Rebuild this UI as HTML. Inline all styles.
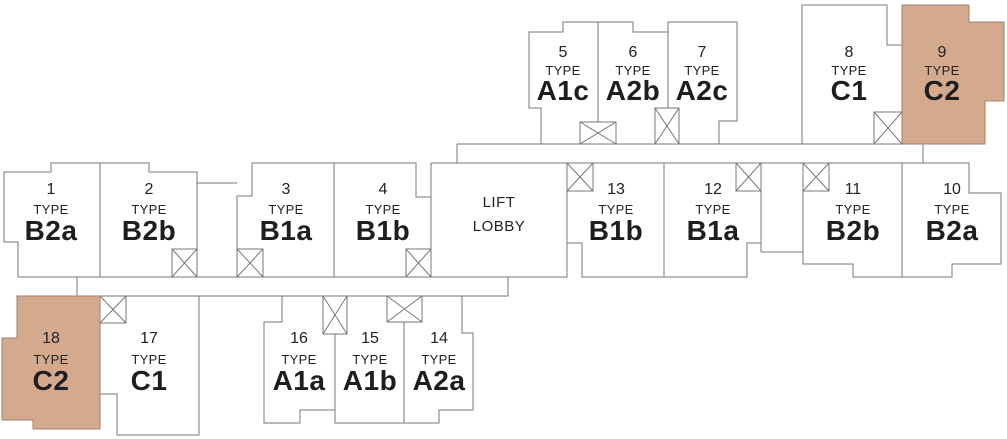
<!DOCTYPE html>
<html><head><meta charset="utf-8"><style>
html,body{margin:0;padding:0;background:#fff;}
svg{display:block;}
.n{font:16px "Liberation Sans",sans-serif;fill:#222;text-anchor:middle;}
.t{font:13px "Liberation Sans",sans-serif;fill:#222;text-anchor:middle;letter-spacing:0.3px;}
.c{font:bold 28px "Liberation Sans",sans-serif;fill:#1e1e1e;text-anchor:middle;letter-spacing:0.5px;}
.l{font:15px "Liberation Sans",sans-serif;fill:#222;text-anchor:middle;letter-spacing:0.5px;}
</style></head><body>
<svg width="1007" height="439" viewBox="0 0 1007 439" xmlns="http://www.w3.org/2000/svg">
<g fill="none" stroke="#777" stroke-width="1">
<polyline points="457,144 457,163 431,163"/>
<line x1="457" y1="144" x2="985" y2="144"/>
<line x1="567" y1="163" x2="969" y2="163"/>
<line x1="923" y1="144" x2="923" y2="163"/>
<polyline points="541,144 541,108 529,108 529,32 563,32 563,22 633,22 633,32 668,32 668,22 737,22 737,121 719,121 719,144"/>
<line x1="598" y1="22" x2="598" y2="122"/>
<line x1="668" y1="32" x2="668" y2="108"/>
<rect x="580" y="122" width="36" height="22"/><path d="M580,122 L616,144 M616,122 L580,144"/>
<rect x="655" y="108" width="24" height="36"/><path d="M655,108 L679,144 M679,108 L655,144"/>
<polyline points="802,144 802,5 887,5 887,45 902,45"/>
<rect x="874" y="112" width="28" height="32"/><path d="M874,112 L902,144 M902,112 L874,144"/>
</g>
<polygon points="902,5 969,5 969,22 1004,22 1004,101 985,101 985,144 902,144" fill="#d4aa8f" stroke="#a08070" stroke-width="1"/>
<g fill="none" stroke="#777" stroke-width="1">
<polyline points="431,163 567,163 567,277 431,277 431,163"/>
<polyline points="567,243 582,243 582,277 664,277"/>
<rect x="567" y="163" width="26" height="28"/><path d="M567,163 L593,191 M593,163 L567,191"/>
<line x1="664" y1="163" x2="664" y2="277"/>
<polyline points="761,163 761,252"/>
<polyline points="761,243 747,243 747,277 664,277"/>
<rect x="736" y="163" width="25" height="28"/><path d="M736,163 L761,191 M761,163 L736,191"/>
<polyline points="761,252 803,252"/>
<polyline points="803,163 803,264 853,264 853,277 902,277"/>
<rect x="803" y="163" width="26" height="28"/><path d="M803,163 L829,191 M829,163 L803,191"/>
<line x1="902" y1="163" x2="902" y2="277"/>
<polyline points="902,163 969,163 969,193 1001,193 1001,264 952,264 952,277 902,277"/>
<polyline points="18,277 18,242 4,242 4,172 51,172 51,163 149,163 149,172 197,172 197,277"/>
<line x1="100" y1="163" x2="100" y2="277"/>
<rect x="172" y="249" width="25" height="28"/><path d="M172,249 L197,277 M197,249 L172,277"/>
<polyline points="197,183 237,183"/>
<polyline points="237,277 237,196 252,196 252,163 416,163 416,197 431,197"/>
<line x1="334" y1="163" x2="334" y2="277"/>
<rect x="237" y="249" width="26" height="28"/><path d="M237,249 L263,277 M263,249 L237,277"/>
<rect x="406" y="249" width="25" height="28"/><path d="M406,249 L431,277 M431,249 L406,277"/>
<polyline points="18,277 431,277"/>
<polyline points="77,277 77,296 508,296 508,277 431,277"/>
<polyline points="199,296 199,435 117,435 117,394 100,394"/>
<rect x="100" y="296" width="26" height="27"/><path d="M100,296 L126,323 M126,296 L100,323"/>
<polyline points="282,296 282,322 264,322 264,423 300,423 300,410 335,410 335,423 404,423 439,423 439,410 473,410 473,333 462,333 462,296"/>
<line x1="335" y1="334" x2="335" y2="410"/>
<line x1="404" y1="322" x2="404" y2="423"/>
<rect x="323" y="296" width="24" height="38"/><path d="M323,296 L347,334 M347,296 L323,334"/>
<rect x="387" y="296" width="35" height="26"/><path d="M387,296 L422,322 M422,296 L387,322"/>
</g>
<polygon points="17,296 100,296 100,429 33,429 33,420 2,420 2,338 17,338" fill="#d4aa8f" stroke="#a08070" stroke-width="1"/>
<g>
<text class="n" x="563" y="57">5</text><text class="t" x="563" y="75">TYPE</text><text class="c" x="563" y="100">A1c</text>
<text class="n" x="633" y="57">6</text><text class="t" x="633" y="75">TYPE</text><text class="c" x="633" y="100">A2b</text>
<text class="n" x="702" y="57">7</text><text class="t" x="702" y="75">TYPE</text><text class="c" x="702" y="100">A2c</text>
<text class="n" x="849" y="57">8</text><text class="t" x="849" y="75">TYPE</text><text class="c" x="849" y="100">C1</text>
<text class="n" x="942" y="57">9</text><text class="t" x="942" y="75">TYPE</text><text class="c" x="942" y="100">C2</text>
<text class="n" x="51" y="194">1</text><text class="t" x="51" y="214">TYPE</text><text class="c" x="51" y="240">B2a</text>
<text class="n" x="149" y="194">2</text><text class="t" x="149" y="214">TYPE</text><text class="c" x="149" y="240">B2b</text>
<text class="n" x="286" y="194">3</text><text class="t" x="286" y="214">TYPE</text><text class="c" x="286" y="240">B1a</text>
<text class="n" x="383" y="194">4</text><text class="t" x="383" y="214">TYPE</text><text class="c" x="383" y="240">B1b</text>
<text class="l" x="499" y="207">LIFT</text><text class="l" x="499" y="231">LOBBY</text>
<text class="n" x="616" y="194">13</text><text class="t" x="616" y="214">TYPE</text><text class="c" x="616" y="240">B1b</text>
<text class="n" x="713" y="194">12</text><text class="t" x="713" y="214">TYPE</text><text class="c" x="713" y="240">B1a</text>
<text class="n" x="853" y="194">11</text><text class="t" x="853" y="214">TYPE</text><text class="c" x="853" y="240">B2b</text>
<text class="n" x="952" y="194">10</text><text class="t" x="952" y="214">TYPE</text><text class="c" x="952" y="240">B2a</text>
<text class="n" x="51" y="343">18</text><text class="t" x="51" y="364">TYPE</text><text class="c" x="51" y="390">C2</text>
<text class="n" x="149" y="343">17</text><text class="t" x="149" y="364">TYPE</text><text class="c" x="149" y="390">C1</text>
<text class="n" x="299" y="343">16</text><text class="t" x="299" y="364">TYPE</text><text class="c" x="299" y="390">A1a</text>
<text class="n" x="370" y="343">15</text><text class="t" x="370" y="364">TYPE</text><text class="c" x="370" y="390">A1b</text>
<text class="n" x="439" y="343">14</text><text class="t" x="439" y="364">TYPE</text><text class="c" x="439" y="390">A2a</text>
</g>
</svg>
</body></html>
